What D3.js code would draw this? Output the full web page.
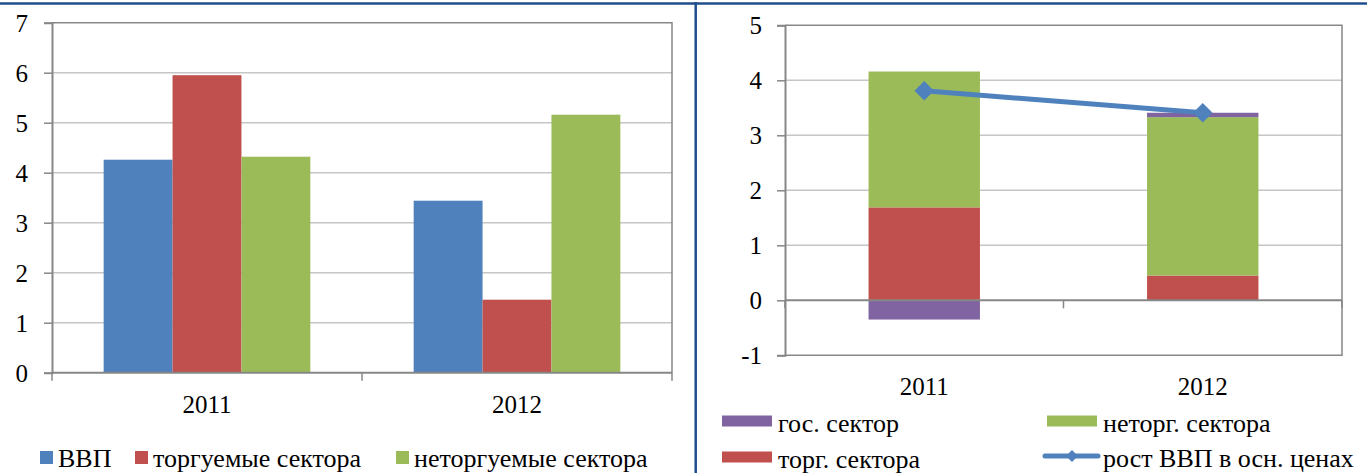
<!DOCTYPE html>
<html><head><meta charset="utf-8">
<script src="https://cdn.jsdelivr.net/npm/d3@7"></script>
</head>
<body style="margin:0;padding:0;background:#fff">
<svg id="c" width="1367" height="473"></svg>
<script>
// ---- data ----
const years = ["2011", "2012"];
const leftSeries = ["ВВП", "торгуемые сектора", "неторгуемые сектора"];
const gdp = [4.26, 3.44];
const tradable = [5.95, 1.46];
const nontradable = [4.32, 5.16];
const leftTicks = [0, 1, 2, 3, 4, 5, 6, 7];

const rightSeriesKeys = ["торг. сектора", "неторг. сектора", "гос. сектор"];
const tradeContrib = [1.69, 0.45];
const nontradeContrib = [2.47, 2.88];
const govContrib = [-0.35, 0.08];
const gdpBasicPrices = [3.81, 3.41];
const rightTicks = [-1, 0, 1, 2, 3, 4, 5];

const colors = {blue:"#4F81BD", red:"#C0504D", green:"#9BBB59", purple:"#8064A2"};
const gridC = "#c6c6c6", axisC = "#878787", frameC = "#1F4E8C";
const FS = 25, LFS = 26;
const FF = "Liberation Serif";
const fmt = d => String(d);

const svg = d3.select("#c");

// ---------- LEFT CHART ----------
(function(){
  const L = 52, R = 672, T = 22.7, B = 372.7;
  const y = d3.scaleLinear().domain([0,7]).range([B,T]);
  const x0 = d3.scaleBand().domain(years).range([L,R]).paddingInner(1/3).paddingOuter(1/6);
  const x1 = d3.scaleBand().domain(leftSeries).range([0,x0.bandwidth()]);
  const g = svg.append("g");
  g.selectAll(".gl").data(leftTicks.filter(d=>d>0 && d<7)).enter().append("line")
    .attr("x1",L).attr("x2",R).attr("y1",d=>y(d)).attr("y2",d=>y(d))
    .attr("stroke",gridC).attr("stroke-width",1.5);
  g.append("path").attr("d",`M${L},${y(7)}H${R}V${B}`).attr("fill","none").attr("stroke",axisC).attr("stroke-width",1.5);
  const vals = [gdp, tradable, nontradable];
  const cols = [colors.blue, colors.red, colors.green];
  years.forEach((yr,i)=>{
    leftSeries.forEach((s,j)=>{
      g.append("rect").attr("x",x0(yr)+x1(s)).attr("width",x1.bandwidth())
        .attr("y",y(vals[j][i])).attr("height",y(0)-y(vals[j][i])).attr("fill",cols[j]);
    });
  });
  const ya = d3.axisLeft(y).tickValues(leftTicks).tickSize(8).tickPadding(16).tickFormat(fmt);
  const yg = g.append("g").attr("transform",`translate(${L},0)`).call(ya).attr("font-family",FF);
  yg.select(".domain").attr("stroke",axisC).attr("stroke-width",2);
  yg.selectAll(".tick line").attr("stroke",axisC).attr("stroke-width",1.5);
  yg.selectAll("text").attr("font-size",FS).attr("dy","0.34em").style("font-family",FF).attr("fill","#000");
  g.append("line").attr("x1",L).attr("x2",R).attr("y1",B).attr("y2",B).attr("stroke",axisC).attr("stroke-width",2);
  const bounds = [L, (L+R)/2, R];
  g.selectAll(".xt").data(bounds).enter().append("line").attr("x1",d=>d).attr("x2",d=>d)
    .attr("y1",B).attr("y2",B+8).attr("stroke",axisC).attr("stroke-width",1.5);
  g.selectAll(".xl").data(years).enter().append("text")
    .attr("x",d=>x0(d)+x0.bandwidth()/2).attr("y",413).attr("text-anchor","middle")
    .attr("font-size",FS).style("font-family",FF).text(d=>d);
  const leg = [{t:"ВВП",c:colors.blue,x:40},{t:"торгуемые сектора",c:colors.red,x:135},{t:"неторгуемые сектора",c:colors.green,x:396}];
  const lg = g.selectAll(".lg").data(leg).enter().append("g");
  lg.append("rect").attr("x",d=>d.x).attr("y",451).attr("width",13).attr("height",13).attr("fill",d=>d.c);
  lg.append("text").attr("x",d=>d.x+18).attr("y",467).attr("font-size",LFS).style("font-family",FF).text(d=>d.t);
})();

// ---------- RIGHT CHART ----------
(function(){
  const L = 785, R = 1342, T = 25.3, B = 355.3;
  const y = d3.scaleLinear().domain([-1,5]).range([B,T]);
  const x = d3.scaleBand().domain(years).range([L,R]).paddingInner(0.6).paddingOuter(0.3);
  const g = svg.append("g");
  g.selectAll(".gl").data(rightTicks.filter(d=>d>-1 && d<5 && d!==0)).enter().append("line")
    .attr("x1",L).attr("x2",R).attr("y1",d=>y(d)).attr("y2",d=>y(d))
    .attr("stroke",gridC).attr("stroke-width",1.5);
  g.append("path").attr("d",`M${L},${y(5)}H${R}V${B}H${L}`).attr("fill","none").attr("stroke",axisC).attr("stroke-width",1.5);
  const rows = years.map((yr,i)=>({year:yr,"торг. сектора":tradeContrib[i],"неторг. сектора":nontradeContrib[i],"гос. сектор":govContrib[i]}));
  const stack = d3.stack().keys(rightSeriesKeys).offset(d3.stackOffsetDiverging)(rows);
  const sc = {"торг. сектора":colors.red,"неторг. сектора":colors.green,"гос. сектор":colors.purple};
  stack.forEach(s=>{
    g.selectAll(null).data(s).enter().append("rect")
      .attr("x",d=>x(d.data.year)).attr("width",x.bandwidth())
      .attr("y",d=>y(Math.max(d[0],d[1]))).attr("height",d=>Math.abs(y(d[0])-y(d[1])))
      .attr("fill",sc[s.key]);
  });
  const ya = d3.axisLeft(y).tickValues(rightTicks).tickSize(8).tickPadding(15).tickFormat(fmt);
  const yg = g.append("g").attr("transform",`translate(${L},0)`).call(ya).attr("font-family",FF);
  yg.select(".domain").attr("stroke",axisC).attr("stroke-width",2);
  yg.selectAll(".tick line").attr("stroke",axisC).attr("stroke-width",1.5);
  yg.selectAll("text").attr("font-size",FS).attr("dy","0.34em").style("font-family",FF).attr("fill","#000");
  g.append("line").attr("x1",L).attr("x2",R).attr("y1",y(0)).attr("y2",y(0)).attr("stroke",axisC).attr("stroke-width",2);
  const bounds = [L,(L+R)/2,R];
  g.selectAll(".xt").data(bounds).enter().append("line").attr("x1",d=>d).attr("x2",d=>d)
    .attr("y1",y(0)).attr("y2",y(0)+8).attr("stroke",axisC).attr("stroke-width",1.5);
  g.selectAll(".xl").data(years).enter().append("text")
    .attr("x",d=>x(d)+x.bandwidth()/2).attr("y",395).attr("text-anchor","middle")
    .attr("font-size",FS).style("font-family",FF).text(d=>d);
  const pts = years.map((yr,i)=>[x(yr)+x.bandwidth()/2, y(gdpBasicPrices[i])]);
  g.append("path").attr("d",d3.line()(pts)).attr("fill","none").attr("stroke",colors.blue).attr("stroke-width",5);
  g.selectAll(".mk").data(pts).enter().append("path")
    .attr("d",d3.symbol(d3.symbolSquare,190)())
    .attr("transform",d=>`translate(${d[0]},${d[1]}) rotate(45)`).attr("fill",colors.blue);
  const leg = [
    {t:"гос. сектор",c:colors.purple,x:722,y:421,type:"rect"},
    {t:"неторг. сектора",c:colors.green,x:1047,y:421,type:"rect"},
    {t:"торг. сектора",c:colors.red,x:722,y:457,type:"rect"},
    {t:"рост ВВП в осн. ценах",c:colors.blue,x:1045,y:456,type:"line"}];
  leg.forEach(d=>{
    if(d.type==="rect"){
      g.append("rect").attr("x",d.x).attr("y",d.y-5.5).attr("width",50).attr("height",11).attr("fill",d.c);
    } else {
      g.append("line").attr("x1",d.x).attr("x2",d.x+53).attr("y1",d.y).attr("y2",d.y)
        .attr("stroke",d.c).attr("stroke-width",5).attr("stroke-linecap","round");
      g.append("path").attr("d",d3.symbol(d3.symbolSquare,70)())
        .attr("transform",`translate(${d.x+27},${d.y}) rotate(45)`).attr("fill",d.c);
    }
    g.append("text").attr("x",d.x+(d.type==="rect"?56:58)).attr("y",d.y+11).attr("font-size",LFS).style("font-family",FF).text(d.t);
  });
})();

svg.append("line").attr("x1",0).attr("x2",1367).attr("y1",3.5).attr("y2",3.5).attr("stroke",frameC).attr("stroke-width",2.5);
svg.append("line").attr("x1",695.7).attr("x2",695.7).attr("y1",2).attr("y2",473).attr("stroke",frameC).attr("stroke-width",2.5);
</script>
</body></html>
